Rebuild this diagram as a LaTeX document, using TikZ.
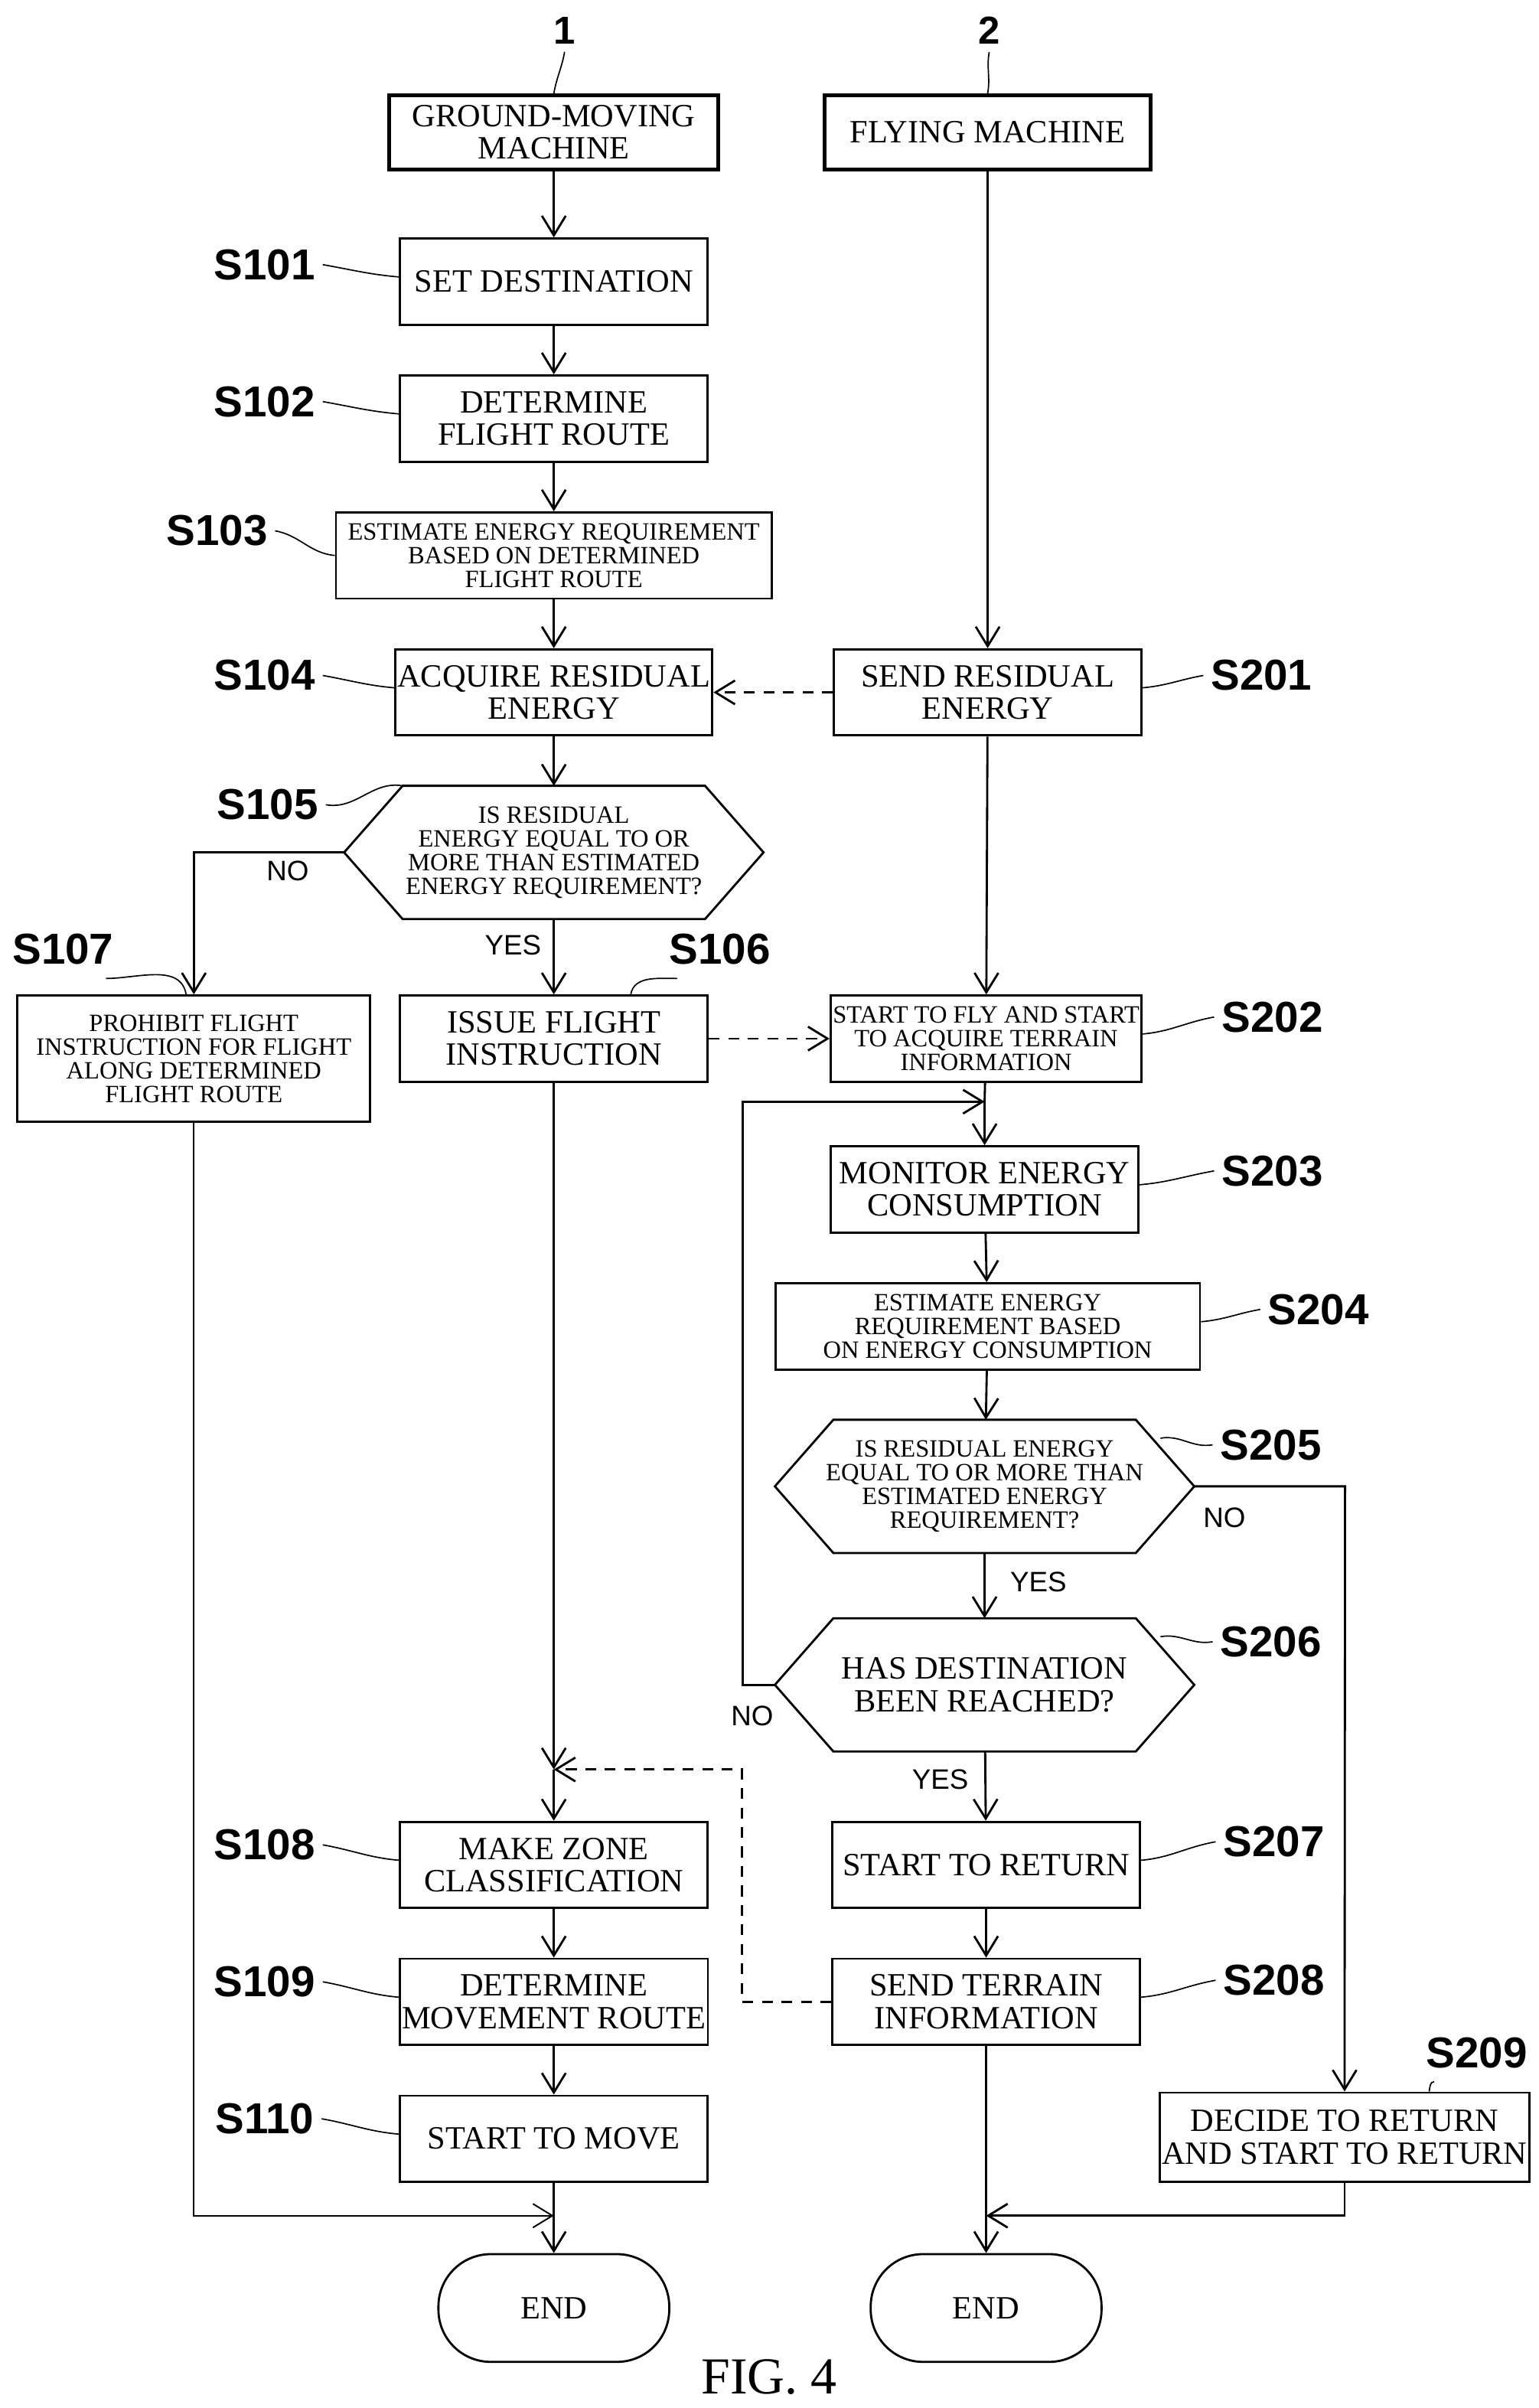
\documentclass[tikz,border=0pt]{standalone}
\usepackage{fontspec}
\setmainfont{Liberation Serif}
\newfontfamily\lblfont{Liberation Sans}
\usetikzlibrary{positioning, arrows.meta, calc}
\tikzset{
  box/.style={rectangle, draw=black, line width=1pt, align=center, minimum width=5cm, minimum height=1.4cm, inner sep=1pt, font=\fontsize{15}{15}\selectfont},
  small/.style={font=\fontsize{11.5}{11}\selectfont},
  hex/.style={align=center, minimum width=6.8cm, minimum height=2.15cm, inner sep=0pt, font=\fontsize{11.5}{11}\selectfont},
  term/.style={rectangle, rounded corners=0.85cm, draw=black, line width=1pt, minimum width=3.75cm, minimum height=1.75cm, font=\fontsize{15}{15}\selectfont},
  lbl/.style={font=\lblfont\bfseries\fontsize{20}{20}\selectfont},
  yn/.style={font=\lblfont\fontsize{13}{13}\selectfont},
  lead/.style={line width=0.6pt},
  flow/.style={line width=1pt, -{Straight Barb[length=9pt, width=11pt]}},
  line/.style={line width=1pt},
  dashline/.style={line width=1pt, dash pattern=on 5pt off 4pt}
}
\newcommand\hexdraw[1]{%
  \draw[line width=1pt] (#1.west) -- ($(#1.north west)+(0.95cm,0)$) -- ($(#1.north east)-(0.95cm,0)$)
    -- (#1.east) -- ($(#1.south east)-(0.95cm,0)$) -- ($(#1.south west)+(0.95cm,0)$) -- cycle;}
\begin{document}
\begin{tikzpicture}[x=0.025cm, y=-0.025cm]
  \useasboundingbox (0,0) rectangle (1000,1565);
  % machines
  \node[box, line width=1.8pt, minimum width=5.35cm, minimum height=1.2cm] (gm) at (360,86) {GROUND-MOVING\\MACHINE};
  \node[box, line width=1.8pt, minimum width=5.3cm, minimum height=1.2cm] (fm) at (642,86) {FLYING MACHINE};
  \node[font=\lblfont\bfseries\fontsize{18}{18}\selectfont] (n1) at (367,20) {1};
  \node[font=\lblfont\bfseries\fontsize{18}{18}\selectfont] (n2) at (643,20) {2};
  \draw[lead] (n1.south) to[out=-100,in=80] (gm.north);
  \draw[lead] (n2.south) to[out=-100,in=80] (fm.north);
  % left column
  \node[box] (s101) at (360,183) {SET DESTINATION};
  \node[box] (s102) at (360,272) {DETERMINE\\FLIGHT ROUTE};
  \node[box, small, minimum width=7.08cm] (s103) at (360,361) {ESTIMATE ENERGY REQUIREMENT\\BASED ON DETERMINED\\FLIGHT ROUTE};
  \node[box] (s104) at (360,450) {ACQUIRE RESIDUAL\\ENERGY};
  \node[hex] (s105) at (360,554) {IS RESIDUAL\\ENERGY EQUAL TO OR\\MORE THAN ESTIMATED\\ENERGY REQUIREMENT?};
  \hexdraw{s105}
  \node[box] (s106) at (360,675) {ISSUE FLIGHT\\INSTRUCTION};
  \node[box, small, minimum width=5.73cm, minimum height=2.05cm] (s107) at (126,688) {PROHIBIT FLIGHT\\INSTRUCTION FOR FLIGHT\\ALONG DETERMINED\\FLIGHT ROUTE};
  \node[box] (s108) at (360,1212) {MAKE ZONE\\CLASSIFICATION};
  \node[box] (s109) at (360,1301) {DETERMINE\\MOVEMENT ROUTE};
  \node[box] (s110) at (360,1390) {START TO MOVE};
  \node[term] (end1) at (360,1500) {END};
  % right column
  \node[box] (s201) at (642,450) {SEND RESIDUAL\\ENERGY};
  \node[box, small] (s202) at (641,675) {START TO FLY AND START\\TO ACQUIRE TERRAIN\\INFORMATION};
  \node[box] (s203) at (640,773) {MONITOR ENERGY\\CONSUMPTION};
  \node[box, small, minimum width=6.9cm] (s204) at (642,862) {ESTIMATE ENERGY\\REQUIREMENT BASED\\ON ENERGY CONSUMPTION};
  \node[hex] (s205) at (640,966) {IS RESIDUAL ENERGY\\EQUAL TO OR MORE THAN\\ESTIMATED ENERGY\\REQUIREMENT?};
  \hexdraw{s205}
  \node[hex, font=\fontsize{15}{15}\selectfont] (s206) at (640,1095) {HAS DESTINATION\\BEEN REACHED?};
  \hexdraw{s206}
  \node[box] (s207) at (641,1212) {START TO RETURN};
  \node[box] (s208) at (641,1301) {SEND TERRAIN\\INFORMATION};
  \node[box, minimum width=5.8cm, minimum height=1.45cm] (s209) at (874,1389) {DECIDE TO RETURN\\AND START TO RETURN};
  \node[term] (end2) at (641,1500) {END};
  \node[font=\fontsize{24}{24}\selectfont] (fig) at (500,1545) {FIG. 4};
  % step labels
  \foreach \s/\x/\y in {101/172/172, 102/172/261, 104/172/439, 108/172/1199, 109/172/1288, 110/172/1377}{
    \node[lbl] (l\s) at (\x,\y) {S\s};
    \draw[lead] (l\s.east) to[out=-10,in=175] ($(s\s.west)+(0,-3)$);
  }
  \node[lbl] (l103) at (141,345) {S103};
  \draw[lead] (l103.east) to[out=-10,in=175] (s103.west);
  \node[lbl] (l105) at (174,523) {S105};
  \draw[lead] (l105.east) to[out=-10,in=170] ($(s105.north west)+(38,0)$);
  \node[lbl] (l107) at (41,617) {S107};
  \draw[lead] ($(l107.south east)+(-10,4)$) to[out=0,in=100] ($(s107.north)+(-5,0)$);
  \node[lbl] (l106) at (468,617) {S106};
  \draw[lead] ($(l106.south west)+(10,4)$) to[out=180,in=80] ($(s106.north)+(50,0)$);
  \foreach \s/\x/\y in {201/820/439, 202/827/661, 203/827/761, 204/857/851, 207/828/1197, 208/828/1287}{
    \node[lbl] (l\s) at (\x,\y) {S\s};
    \draw[lead] ($(s\s.east)+(0,-3)$) to[out=5,in=190] (l\s.west);
  }
  \node[lbl] (l205) at (826,939) {S205};
  \draw[lead] ($(s205.north east)+(-22,12)$) to[out=10,in=190] (l205.west);
  \node[lbl] (l206) at (826,1067) {S206};
  \draw[lead] ($(s206.north east)+(-22,12)$) to[out=10,in=190] (l206.west);
  \node[lbl] (l209) at (960,1334) {S209};
  \draw[lead] ($(l209.south west)+(10,4)$) to[out=180,in=80] ($(s209.north)+(55,0)$);
  % ground-moving machine flow
  \draw[flow] (gm) -- (s101);
  \draw[flow] (s101) -- (s102);
  \draw[flow] (s102) -- (s103);
  \draw[flow] (s103) -- (s104);
  \draw[flow] (s104) -- (s105);
  \draw[flow] (s105) -- node[yn, pos=0.35, left=2pt] {YES} (s106);
  \draw[flow] (s105.west) -| node[yn, pos=0.3, below right=0pt and 2pt] {NO} (s107.north);
  \coordinate (mrg) at (360,1150);
  \draw[flow] (s106) -- (mrg);
  \draw[flow] (mrg) -- (s108);
  \draw[flow] (s108) -- (s109);
  \draw[flow] (s109) -- (s110);
  \coordinate (j1) at (360,1440);
  \draw[flow, line width=0.7pt] (s107.south) |- (j1);
  \draw[flow] (s110) -- (end1);
  % flying machine flow
  \draw[flow] (fm) -- (s201);
  \draw[flow, dashline] (s201) -- (s104);
  \draw[flow] (s201) -- (s202);
  \draw[flow, dashline] (s106) -- (s202);
  \coordinate (loop) at (640,716);
  \draw[line] (s202) -- (loop);
  \draw[flow] (loop) -- (s203);
  \draw[flow] (s203) -- (s204);
  \draw[flow] (s204) -- (s205);
  \draw[flow] (s205) -- node[yn, pos=0.45, right=8pt] {YES} (s206);
  \draw[flow] (s206.west) -- node[yn, pos=0.7, below=6pt] {NO} ++(-21,0) |- (loop);
  \draw[flow] (s205.east) -- node[yn, pos=0.2, below=6pt] {NO} ++(98,0) -- (s209.north);
  \draw[flow] (s206) -- node[yn, pos=0.4, left=4pt] {YES} (s207);
  \draw[flow] (s207) -- (s208);
  \draw[flow, dashline] (s208.west) -- ++(-58,0) |- (mrg);
  \coordinate (j2) at (641,1440);
  \draw[flow] (s209.south) |- (j2);
  \draw[flow] (s208) -- (end2);
\end{tikzpicture}
\end{document}
